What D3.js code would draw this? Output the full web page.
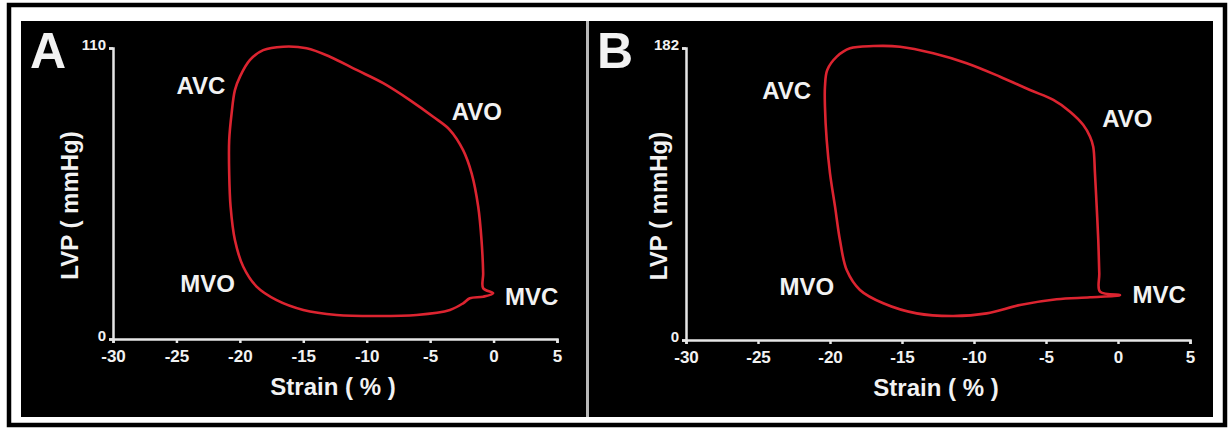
<!DOCTYPE html>
<html>
<head>
<meta charset="utf-8">
<script src="https://cdn.jsdelivr.net/npm/d3@7"></script>
<style>
  body { margin: 0; background: #fff; }
  text { font-family: "Liberation Sans", Arial, sans-serif; font-weight: bold; fill: #f2f2f2; }
</style>
</head>
<body>
<div id="chart"></div>
<script>
// loop A: strain (%) and LVP (mmHg), starting at MVC, going up then round
const strainA = [-0.03, -0.82, -0.82, -0.95, -1.21, -1.73, -2.40, -3.44, -4.76, -6.60, -8.70, -10.80, -12.90, -14.74, -16.58, -18.16, -19.20, -19.99, -20.39, -20.65, -20.84, -20.84, -20.73, -20.39, -19.73, -18.68, -17.10, -15.00, -12.37, -9.22, -6.07, -3.44, -2.40, -1.87, -0.82];
const lvpA    = [17.3, 19.2, 24.8, 37.4, 50.0, 62.6, 71.4, 79.0, 84.0, 90.3, 96.7, 101.7, 106.7, 109.9, 110.5, 109.2, 105.5, 99.2, 94.1, 85.3, 75.2, 62.6, 50.0, 37.4, 27.3, 19.8, 14.7, 11.0, 9.1, 8.7, 9.1, 11.0, 13.5, 15.4, 16.0];

const strainB = [0.14, -1.25, -1.30, -1.37, -1.48, -1.60, -1.72, -1.94, -2.41, -3.33, -4.49, -6.11, -8.19, -10.51, -12.83, -15.14, -16.99, -18.61, -19.53, -20.19, -20.35, -20.35, -20.23, -20.00, -19.65, -19.31, -18.84, -17.92, -16.30, -13.98, -11.44, -9.12, -6.81, -4.26, -1.94];
const lvpB    = [28.0, 30.1, 41.6, 62.3, 83.1, 103.9, 120.5, 126.7, 134.0, 142.3, 149.6, 155.8, 164.1, 172.5, 178.7, 182.8, 183.2, 181.8, 176.6, 168.3, 157.9, 145.4, 124.7, 103.9, 83.1, 62.3, 43.6, 31.2, 22.9, 16.6, 15.0, 16.6, 21.8, 25.4, 26.6];

const xTicks = [-30, -25, -20, -15, -10, -5, 0, 5];
const yMaxA = 110;
const yMaxB = 182;

// event labels: name, strain at left edge of text, LVP at text middle
const eventsA = [["AVC", -25.0, 95.6], ["AVO", -3.3, 85.8], ["MVO", -24.7, 20.8], ["MVC", 0.9, 15.9]];
const eventsB = [["AVC", -24.7, 155.2], ["AVO", -1.1, 137.7], ["MVO", -23.5, 33.0], ["MVC", 1.0, 28.0]];

const W = 1229, H = 428;
const svg = d3.select("#chart").append("svg")
  .attr("width", W).attr("height", H);

// outer frame and black background
svg.append("rect").attr("x", 9).attr("y", 5).attr("width", 1216).attr("height", 420)
  .attr("fill", "#fff").attr("stroke", "#000").attr("stroke-width", 4.5);
svg.append("rect").attr("x", 21).attr("y", 21).attr("width", 1192).attr("height", 396)
  .attr("fill", "#000");
svg.append("line").attr("x1", 587.5).attr("x2", 587.5).attr("y1", 21).attr("y2", 417)
  .attr("stroke", "#b8b8b8").attr("stroke-width", 3);

function panel(letter, strain, lvp, yMax, events, box) {
  const g = svg.append("g");
  const x = d3.scaleLinear().domain([-30, 5]).range([box.x0, box.x1]);
  const y = d3.scaleLinear().domain([0, yMax]).range([box.y0, box.y1]);

  const xAxis = g.append("g")
    .attr("transform", `translate(0,${box.y0})`)
    .call(d3.axisBottom(x).tickValues(xTicks).tickSize(4).tickPadding(7).tickFormat(d => d < 0 ? "-" + (-d) : d));
  const yAxis = g.append("g")
    .attr("transform", `translate(${box.x0},0)`)
    .call(d3.axisLeft(y).tickValues([0, yMax]).tickSize(4).tickPadding(3));

  [xAxis, yAxis].forEach(a => {
    a.select(".domain").attr("stroke", "#e6e6e6").attr("stroke-width", 2.5);
    a.selectAll(".tick line").attr("stroke", "#e6e6e6").attr("stroke-width", 2.5);
    a.selectAll(".tick text").style("font-family", "Liberation Sans, Arial, sans-serif")
      .style("font-weight", "bold").attr("fill", "#e6e6e6");
  });
  xAxis.selectAll(".tick text").style("font-size", "17px");
  yAxis.selectAll(".tick text").style("font-size", "15px").attr("dy", "0.1em");

  g.append("text").attr("x", (box.x0 + box.x1) / 2 - 2).attr("y", box.y0 + 56)
    .attr("text-anchor", "middle").style("font-size", "24px").text("Strain ( % )");

  g.append("text").attr("transform", `translate(${box.ly},${(box.y0 + box.y1) / 2 + 12}) rotate(-90)`)
    .attr("text-anchor", "middle").style("font-size", "24px").text("LVP ( mmHg)");

  g.append("text").attr("x", box.lx).attr("y", 68).style("font-size", "50px").text(letter);

  const pts = strain.map((s, i) => [s, lvp[i]]);
  const line = d3.line().x(d => x(d[0])).y(d => y(d[1])).curve(d3.curveCatmullRomClosed.alpha(0.5));
  g.append("path").datum(pts).attr("d", line)
    .attr("fill", "none").attr("stroke", "#dc2430").attr("stroke-width", 2.6);

  g.selectAll(".ev").data(events).enter().append("text")
    .attr("x", d => x(d[1])).attr("y", d => y(d[2]))
    .attr("dy", "0.35em").style("font-size", "24px").text(d => d[0]);
}

panel("A", strainA, lvpA, yMaxA, eventsA, {x0: 113, x1: 557, y0: 339, y1: 48, lx: 30, ly: 78});
panel("B", strainB, lvpB, yMaxB, eventsB, {x0: 686, x1: 1190, y0: 340, y1: 48, lx: 597, ly: 667});
</script>
</body>
</html>
